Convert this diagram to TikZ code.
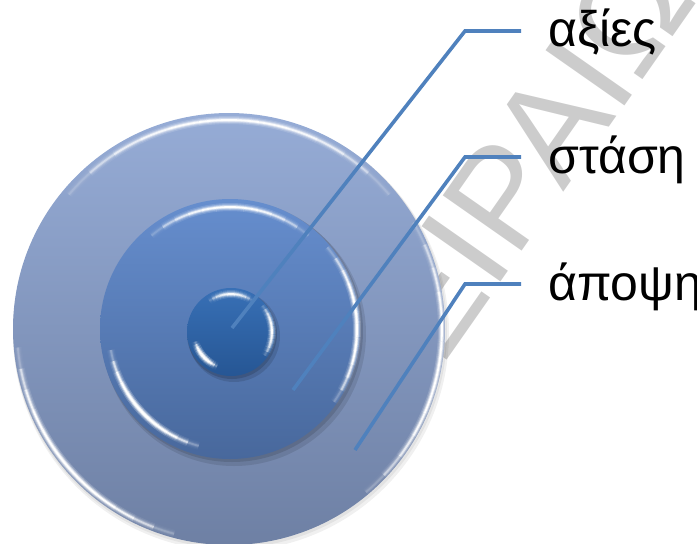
\documentclass[tikz,border=0pt]{standalone}
\usepackage{fontspec}
\setmainfont{Liberation Sans}
\newfontfamily\wmfont{Liberation Sans}
\definecolor{outerTop}{RGB}{150,172,214}
\definecolor{outerBot}{RGB}{110,128,164}
\definecolor{midTop}{RGB}{102,142,206}
\definecolor{midBot}{RGB}{72,104,156}
\definecolor{innTop}{RGB}{56,112,182}
\definecolor{innBot}{RGB}{38,86,148}
\definecolor{lineBlue}{RGB}{79,129,189}
\definecolor{wmGray}{RGB}{204,204,204}
\newcommand\glowarc[5]{%
  \foreach \i in {0,...,11}{%
    \pgfmathsetmacro\aa{#2+(#3-#2)*\i/12}%
    \pgfmathsetmacro\ab{#2+(#3-#2)*(\i+1)/12}%
    \pgfmathsetmacro\ff{sin(180*(\i+0.5)/12)}%
    \foreach \w/\o in {8/0.08,5.5/0.14,3.5/0.25,1.8/0.5}{%
      \pgfmathsetmacro\myop{min(1,\o*#5*\ff)}%
      \draw[white,line width=\w pt,opacity=\myop] (#1) ++(\aa:#4) arc[start angle=\aa,end angle=\ab,radius=#4];}}}
\begin{document}
\begin{tikzpicture}[x=1pt,y=-1pt,
  leader/.style={draw=lineBlue,line width=3.6pt,line join=miter},
  label/.style={anchor=base west,inner sep=0pt,font=\fontsize{50}{60}\selectfont},
]
\useasboundingbox (0,0) rectangle (697,544);
% watermark
\node[text=wmGray,font=\wmfont\fontsize{140}{150}\selectfont,rotate=55,anchor=base west,inner sep=0pt] (wm) at (382,452) {ΠΕΙΡΑΙΩΣ};
% centres
\coordinate (co) at (229,329);
\coordinate (cm) at (230,329);
\coordinate (ci) at (231,332);
% outer disc
\fill[black,opacity=0.06] (231,333) circle (218);
\fill[black,opacity=0.06] (230,331) circle (217);
\shade[top color=outerTop,bottom color=outerBot] (co) circle (216);
\glowarc{co}{-40}{-140}{209}{2.0}
\glowarc{co}{175}{105}{212}{2.6}
\glowarc{co}{50}{-30}{213}{2.2}
% middle disc
\fill[black,opacity=0.10] (234,334) circle (132);
\fill[black,opacity=0.12] (232,331) circle (131);
\shade[top color=midTop,bottom color=midBot] (cm) circle (130);
\glowarc{cm}{-50}{-130}{122}{2.0}
\glowarc{cm}{170}{105}{121}{3.0}
\glowarc{cm}{35}{-40}{127}{2.5}
% inner disc
\fill[black,opacity=0.12] (234,336) circle (46);
\fill[black,opacity=0.14] (232,334) circle (45);
\shade[top color=innTop,bottom color=innBot] (ci) circle (44);
\glowarc{ci}{-55}{-125}{38}{1.8}
\glowarc{ci}{165}{112}{37}{3.0}
\glowarc{ci}{35}{-40}{41}{2.0}
% labels
\node[label] (l1) at (548,46) {αξίες};
\node[label] (l2) at (548,173) {στάση};
\node[label] (l3) at (548,300) {άποψη};
% leader points
\coordinate (e1) at (232,328);
\coordinate (k1) at (465,31);
\coordinate (t1) at (521,31);
\coordinate (e2) at (293,390);
\coordinate (k2) at (465,157);
\coordinate (t2) at (521,157);
\coordinate (e3) at (355,450);
\coordinate (k3) at (465,284);
\coordinate (t3) at (521,284);
\draw[leader] (e1) -- (k1) -- (t1);
\draw[leader] (e2) -- (k2) -- (t2);
\draw[leader] (e3) -- (k3) -- (t3);
\end{tikzpicture}
\end{document}
